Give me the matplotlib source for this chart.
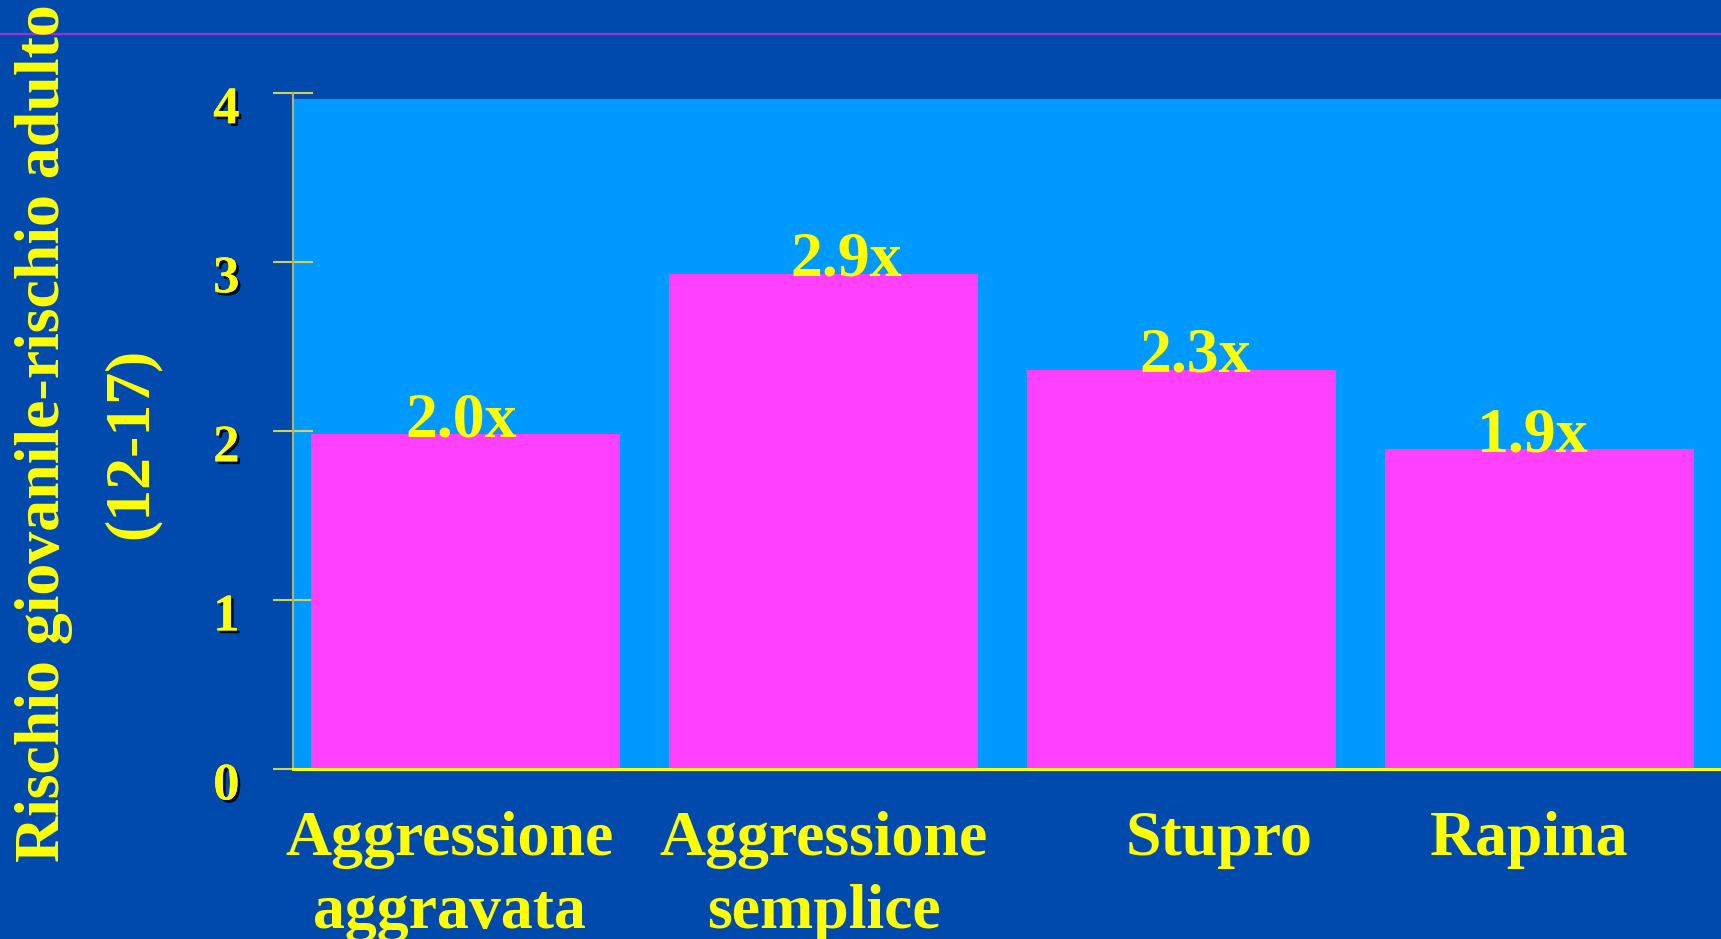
import matplotlib
matplotlib.use("Agg")
import matplotlib.pyplot as plt
import matplotlib.patheffects as pe
from matplotlib.transforms import ScaledTranslation

# ---- data ----
categories = ["Aggressione\naggravata", "Aggressione\nsemplice", "Stupro", "Rapina"]
values = [1.98, 2.93, 2.36, 1.89]
value_labels = ["2.0x", "2.9x", "2.3x", "1.9x"]
yticks = [0, 1, 2, 3, 4]
ylabel_line1 = "Rischio giovanile-rischio adulto"
ylabel_line2 = "(12-17)"

# ---- style ----
DARK = "#004AAD"
LIGHT = "#0099FF"
MAGENTA = "#FF40FF"
YELLOW = "#FFFF00"
PURPLE = "#9933CC"
AXIS = "#B4B464"
FONT = ["Liberation Serif", "DejaVu Serif"]
# small horizontal nudges (pixels) of texts, as placed in the original slide
value_label_dx = [-5, 22, 13, -7]
cat_label_dx = [-16, 0, 37, -11]

W, H, DPI = 1721, 939, 100
fig = plt.figure(figsize=(W / DPI, H / DPI), dpi=DPI, facecolor=DARK)

# horizontal purple rule near the top
fig.add_artist(plt.Line2D([0, 1], [1 - 34 / H, 1 - 34 / H], color=PURPLE,
                          lw=1.6, transform=fig.transFigure, zorder=0))

left = 293 / W
bottom = (H - 769) / H
top = (H - 92.7) / H
ax = fig.add_axes([left, bottom, 1 - left, top - bottom])
ax.set_facecolor(DARK)

x = list(range(len(categories)))
ax.set_xlim(-0.483, 3.506)
ax.set_ylim(0, 4)

# light-blue plot panel
ax.axhspan(0, 3.965, color=LIGHT, zorder=0, lw=0)

bars = ax.bar(x, values, width=0.863, color=MAGENTA, zorder=2, lw=0)

for xi, v, lab, dx in zip(x, values, value_labels, value_label_dx):
    ax.annotate(lab, (xi, v), xytext=(dx, -2), textcoords="offset pixels",
                ha="center", va="baseline", color=YELLOW, fontsize=46,
                fontweight="bold", family=FONT, zorder=3)

# spines
for s in ("top", "right"):
    ax.spines[s].set_visible(False)
ax.spines["left"].set_color(AXIS)
ax.spines["left"].set_linewidth(1.5)
ax.spines["bottom"].set_color(YELLOW)
ax.spines["bottom"].set_linewidth(2.2)
ax.spines["left"].set_zorder(4)
ax.spines["bottom"].set_zorder(4)

# y ticks
ax.set_yticks(yticks)
ax.set_yticklabels([str(t) for t in yticks])
ax.tick_params(axis="y", direction="inout", length=29, width=1.5,
               color="#D2D250", pad=24, labelsize=38, labelcolor=YELLOW)
shadow = [pe.withSimplePatchShadow(offset=(2, -2), shadow_rgbFace="black", alpha=0.9),
          pe.Normal()]
for lbl in ax.get_yticklabels():
    lbl.set_fontfamily(FONT)
    lbl.set_fontweight("bold")
    lbl.set_path_effects(shadow)
    lbl.set_transform(lbl.get_transform() + ScaledTranslation(0, -12 / DPI, fig.dpi_scale_trans))

# x ticks
ax.set_xticks(x)
ax.set_xticklabels(categories)
ax.tick_params(axis="x", length=0, pad=30, labelsize=46, labelcolor=YELLOW)
for lbl, dx in zip(ax.get_xticklabels(), cat_label_dx):
    lbl.set_fontfamily(FONT)
    lbl.set_fontweight("bold")
    lbl.set_linespacing(1.34)
    lbl.set_transform(lbl.get_transform() + ScaledTranslation(dx / DPI, 0, fig.dpi_scale_trans))

# y label (two lines)
fig.text(44 / W, 1 - 433 / H, ylabel_line1, rotation=90, ha="center", va="center",
         color=YELLOW, fontsize=46, fontweight="bold", family=FONT)
fig.text(132 / W, 1 - 443 / H, ylabel_line2, rotation=90, ha="center", va="center",
         color=YELLOW, fontsize=46, fontweight="bold", family=FONT)

fig.savefig("out.png", dpi=DPI, facecolor=DARK)
